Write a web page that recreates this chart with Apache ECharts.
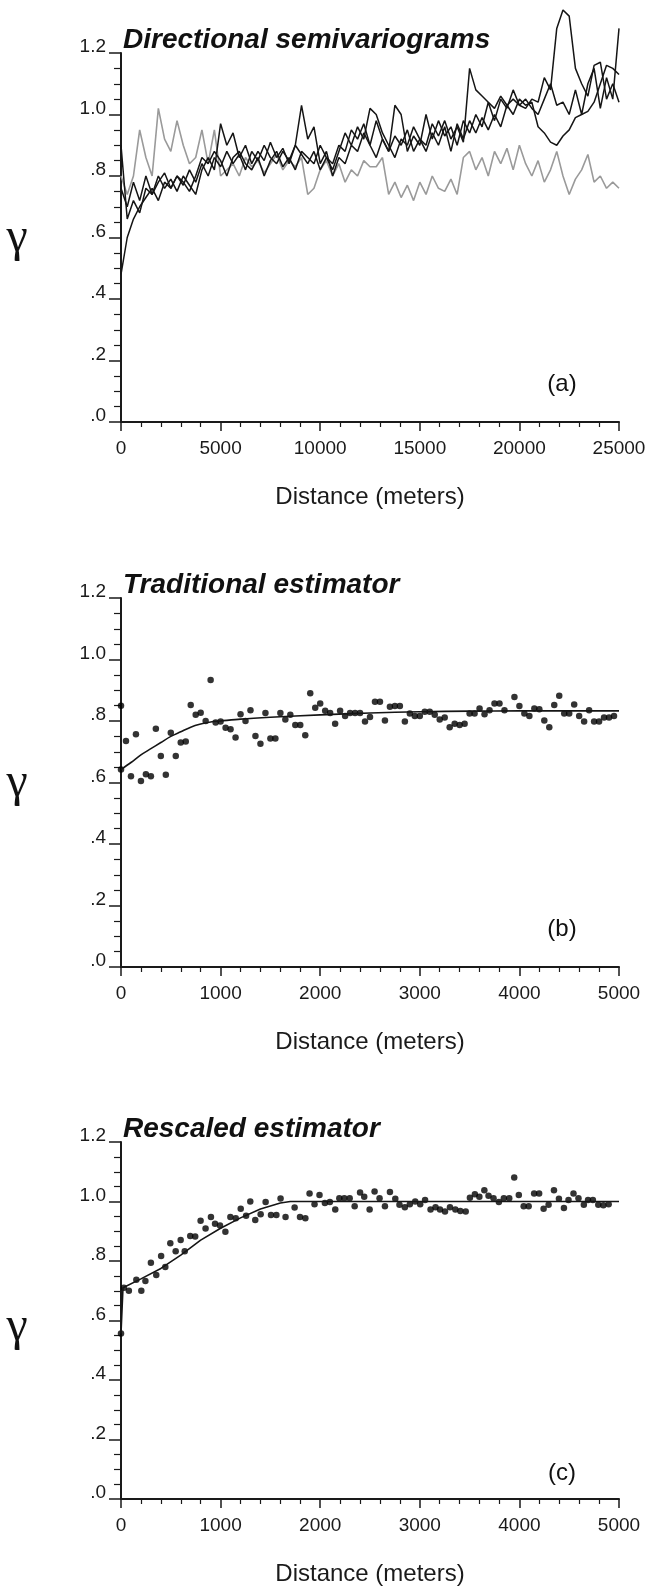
<!DOCTYPE html>
<html><head><meta charset="utf-8">
<script src="https://cdn.jsdelivr.net/npm/echarts@6/dist/echarts.min.js"></script>
<style>html,body{margin:0;padding:0;background:#fff}#c{width:649px;height:1587px}</style>
</head><body><div id="c"></div>
<script>
// ---------- Panel (a): directional semivariograms ----------
const aDist = [0,312.5,625,937.5,1250,1562.5,1875,2187.5,2500,2812.5,3125,3437.5,3750,4062.5,4375,4687.5,5000,5312.5,5625,5937.5,6250,6562.5,6875,7187.5,7500,7812.5,8125,8437.5,8750,9062.5,9375,9687.5,10000,10312.5,10625,10937.5,11250,11562.5,11875,12187.5,12500,12812.5,13125,13437.5,13750,14062.5,14375,14687.5,15000,15312.5,15625,15937.5,16250,16562.5,16875,17187.5,17500,17812.5,18125,18437.5,18750,19062.5,19375,19687.5,20000,20312.5,20625,20937.5,21250,21562.5,21875,22187.5,22500,22812.5,23125,23437.5,23750,24062.5,24375,24687.5,25000];
const aGray = [0.80,0.74,0.80,0.95,0.86,0.80,1.02,0.92,0.88,0.98,0.90,0.84,0.86,0.95,0.84,0.95,0.80,0.82,0.84,0.80,0.86,0.83,0.85,0.81,0.84,0.87,0.82,0.85,0.83,0.86,0.74,0.76,0.82,0.85,0.80,0.84,0.78,0.82,0.80,0.85,0.83,0.83,0.86,0.74,0.78,0.73,0.77,0.72,0.78,0.74,0.80,0.76,0.75,0.79,0.74,0.86,0.88,0.82,0.86,0.80,0.88,0.84,0.89,0.82,0.90,0.84,0.80,0.85,0.78,0.82,0.88,0.80,0.74,0.79,0.82,0.87,0.78,0.80,0.76,0.78,0.76];
const aDir1 = [0.48,0.60,0.66,0.70,0.73,0.76,0.72,0.78,0.76,0.80,0.77,0.82,0.78,0.84,0.80,0.86,0.83,0.88,0.84,0.87,0.82,0.88,0.85,0.90,0.86,0.84,0.88,0.85,0.90,0.87,0.84,0.88,0.82,0.86,0.84,0.90,0.88,0.95,0.92,0.97,0.90,0.86,0.92,0.88,0.93,0.90,0.95,0.88,0.92,0.90,0.97,0.93,0.98,0.92,0.96,0.91,1.15,1.08,1.06,1.04,1.02,1.06,1.03,1.05,1.03,1.02,1.05,1.04,1.12,1.08,1.28,1.34,1.32,1.15,1.10,1.06,1.16,1.17,1.05,1.10,1.04];
const aDir2 = [0.90,0.66,0.72,0.68,0.76,0.74,0.80,0.76,0.79,0.75,0.80,0.77,0.74,0.82,0.86,0.82,0.97,0.90,0.94,0.86,0.90,0.84,0.88,0.85,0.91,0.86,0.89,0.84,0.90,1.03,0.92,0.96,0.84,0.88,0.80,0.86,0.84,0.90,0.88,0.94,0.90,0.98,0.92,0.88,1.03,1.00,0.88,0.93,0.90,1.00,0.92,0.98,0.93,0.96,0.90,0.98,0.94,1.00,0.96,1.04,0.98,1.05,1.02,1.08,1.03,1.05,1.02,1.00,1.05,1.10,1.03,1.04,1.00,1.08,1.00,1.10,1.15,1.02,1.12,1.05,1.28];
const aDir3 = [0.76,0.70,0.78,0.72,0.80,0.74,0.78,0.81,0.76,0.80,0.78,0.75,0.80,0.86,0.84,0.88,0.85,0.80,0.86,0.88,0.84,0.82,0.86,0.80,0.85,0.88,0.83,0.86,0.82,0.88,0.86,0.84,0.90,0.86,0.82,0.88,0.94,0.90,0.96,0.92,1.02,1.00,0.94,0.90,0.86,0.92,0.90,0.96,0.92,0.88,0.94,0.90,0.96,0.88,0.97,0.92,0.98,0.94,0.99,0.95,1.00,0.96,1.03,1.00,1.05,1.03,1.04,0.96,0.94,0.91,0.90,0.93,0.95,0.99,1.00,1.01,1.04,1.10,1.16,1.15,1.13];

// ---------- Panel (b): traditional estimator ----------
const bDist = [0,0,50,100,150,200,250,300,350,400,450,500,550,600,650,700,750,800,850,900,950,1000,1050,1100,1150,1200,1250,1300,1350,1400,1450,1500,1550,1600,1650,1700,1750,1800,1850,1900,1950,2000,2050,2100,2150,2200,2250,2300,2350,2400,2450,2500,2550,2600,2650,2700,2750,2800,2850,2900,2950,3000,3050,3100,3150,3200,3250,3300,3350,3400,3450,3500,3550,3600,3650,3700,3750,3800,3850,3950,4000,4050,4100,4150,4200,4250,4300,4350,4400,4450,4500,4550,4600,4650,4700,4750,4800,4850,4900,4950];
const bGamma = [0.85,0.642,0.735,0.62,0.757,0.605,0.627,0.62,0.775,0.686,0.625,0.762,0.686,0.73,0.733,0.852,0.82,0.827,0.80,0.933,0.795,0.798,0.778,0.773,0.746,0.822,0.80,0.835,0.751,0.726,0.826,0.743,0.743,0.826,0.805,0.82,0.787,0.787,0.754,0.89,0.843,0.857,0.833,0.826,0.791,0.833,0.816,0.826,0.826,0.826,0.798,0.813,0.863,0.863,0.802,0.846,0.849,0.849,0.798,0.824,0.816,0.816,0.83,0.83,0.82,0.805,0.811,0.78,0.791,0.787,0.791,0.824,0.824,0.841,0.822,0.835,0.857,0.857,0.835,0.878,0.849,0.824,0.816,0.841,0.838,0.802,0.78,0.852,0.882,0.824,0.824,0.854,0.816,0.798,0.835,0.798,0.798,0.811,0.811,0.816];
const bModelDist = [0,100,200,300,400,500,600,700,800,900,1000,1200,1500,2000,2500,3000,3500,4000,5000];
const bModelGamma = [0.642,0.665,0.69,0.71,0.73,0.75,0.765,0.78,0.79,0.797,0.80,0.806,0.812,0.82,0.826,0.83,0.832,0.833,0.833];

// ---------- Panel (c): rescaled estimator ----------
const cDist = [0,29,79,154,204,245,300,354,403,445,495,549,599,640,695,745,799,849,903,944,994,1048,1098,1152,1202,1256,1298,1348,1402,1452,1506,1560,1602,1652,1743,1797,1851,1893,1943,1993,2047,2097,2151,2192,2242,2296,2346,2400,2442,2496,2546,2596,2650,2700,2754,2796,2850,2900,2954,3004,3053,3108,3158,3203,3253,3303,3357,3407,3461,3503,3553,3598,3648,3690,3740,3794,3844,3898,3948,3994,4043,4093,4148,4198,4243,4293,4347,4397,4447,4493,4543,4593,4647,4689,4738,4792,4843,4896];
const cGamma = [0.556,0.71,0.70,0.737,0.70,0.733,0.794,0.753,0.817,0.78,0.86,0.833,0.871,0.833,0.884,0.882,0.935,0.909,0.948,0.925,0.919,0.898,0.948,0.944,0.976,0.952,1.0,0.938,0.957,0.998,0.955,0.955,1.01,0.948,0.98,0.948,0.944,1.027,0.991,1.022,0.995,0.998,0.973,1.011,1.011,1.011,0.984,1.03,1.016,0.973,1.034,1.011,0.984,1.032,1.009,0.989,0.981,0.991,1.0,0.991,1.005,0.973,0.981,0.973,0.966,0.981,0.973,0.968,0.966,1.013,1.024,1.016,1.038,1.019,1.011,0.998,1.011,1.011,1.081,1.022,0.984,0.984,1.027,1.027,0.976,0.989,1.038,1.009,0.978,1.005,1.027,1.011,0.989,1.005,1.005,0.989,0.987,0.991];
const cModelDist = [0,20,200,400,600,800,1000,1200,1400,1600,1700,5000];
const cModelGamma = [0.556,0.71,0.74,0.775,0.82,0.87,0.91,0.945,0.975,0.995,1.0,1.0];

const yTicks = [0, 0.2, 0.4, 0.6, 0.8, 1.0, 1.2];
const titles = ['Directional semivariograms', 'Traditional estimator', 'Rescaled estimator'];
const panelTags = ['(a)', '(b)', '(c)'];
const xLabel = 'Distance (meters)';
const yLabel = 'γ';

const zip = (xs, ys) => xs.map((x, i) => [x, ys[i]]);
const FONT = "'Liberation Sans', Arial, sans-serif";
const INK = '#1a1a1a';
const tops = [53, 598, 1142];
const H = 369;

const grids = tops.map(t => ({left: 121, top: t, width: 498, height: H}));

function xAx(i, max, interval) {
  return {
    gridIndex: i, type: 'value', min: 0, max: max, interval: interval,
    name: xLabel, nameLocation: 'middle', nameGap: 63,
    nameTextStyle: {fontFamily: FONT, fontSize: 24, color: INK},
    axisLine: {show: true, onZero: false, lineStyle: {color: INK, width: 2}},
    axisTick: {show: true, length: 9, lineStyle: {color: INK, width: 1.5}},
    minorTick: {show: true, splitNumber: 5, length: 5, lineStyle: {color: INK, width: 1.2}},
    axisLabel: {fontFamily: FONT, fontSize: 19, color: INK, margin: 17, showMaxLabel: true, formatter: v => String(v)},
    splitLine: {show: false}
  };
}
function yAx(i) {
  return {
    gridIndex: i, type: 'value', min: yTicks[0], max: yTicks[yTicks.length - 1], interval: yTicks[1] - yTicks[0],
    axisLine: {show: true, onZero: false, lineStyle: {color: INK, width: 2}},
    axisTick: {show: true, length: 12, lineStyle: {color: INK, width: 1.5}},
    minorTick: {show: true, splitNumber: 4, length: 7, lineStyle: {color: INK, width: 1.2}},
    axisLabel: {
      fontFamily: FONT, fontSize: 19, color: INK, margin: 15,
      verticalAlign: 'bottom', lineHeight: 12,
      formatter: v => { const d = Math.round(v * 10); return v < 0.99 ? '.' + d : (d / 10).toFixed(1); }
    },
    splitLine: {show: false}
  };
}

const graphics = [];
tops.forEach((t, i) => {
  graphics.push({type: 'text', left: 123, top: t - 27, style: {text: titles[i], font: `italic bold 28px ${FONT}`, fill: '#111'}});
  graphics.push({type: 'text', x: 17, y: t + 185, style: {text: yLabel, font: "48px 'Liberation Serif', 'Times New Roman', serif", fill: '#111', align: 'center', verticalAlign: 'middle'}});
  graphics.push({type: 'text', x: 562, y: t + H - 38, style: {text: panelTags[i], font: `24px ${FONT}`, fill: '#111', align: 'center', verticalAlign: 'middle'}});
});

const lineBase = {type: 'line', showSymbol: false, clip: false, silent: true, animation: false};
const series = [
  Object.assign({}, lineBase, {xAxisIndex: 0, yAxisIndex: 0, data: zip(aDist, aGray), lineStyle: {color: '#9a9a9a', width: 1.6}}),
  Object.assign({}, lineBase, {xAxisIndex: 0, yAxisIndex: 0, data: zip(aDist, aDir1), lineStyle: {color: '#151515', width: 1.5}}),
  Object.assign({}, lineBase, {xAxisIndex: 0, yAxisIndex: 0, data: zip(aDist, aDir2), lineStyle: {color: '#151515', width: 1.5}}),
  Object.assign({}, lineBase, {xAxisIndex: 0, yAxisIndex: 0, data: zip(aDist, aDir3), lineStyle: {color: '#151515', width: 1.5}}),
  {type: 'scatter', xAxisIndex: 1, yAxisIndex: 1, data: zip(bDist, bGamma), symbol: 'circle', symbolSize: 6.5, itemStyle: {color: '#000'}, silent: true, animation: false},
  Object.assign({}, lineBase, {xAxisIndex: 1, yAxisIndex: 1, smooth: 0.3, data: zip(bModelDist, bModelGamma), lineStyle: {color: '#151515', width: 1.6}}),
  {type: 'scatter', xAxisIndex: 2, yAxisIndex: 2, data: zip(cDist, cGamma), symbol: 'circle', symbolSize: 6.5, itemStyle: {color: '#000'}, silent: true, animation: false},
  Object.assign({}, lineBase, {xAxisIndex: 2, yAxisIndex: 2, data: zip(cModelDist, cModelGamma), lineStyle: {color: '#151515', width: 1.6}})
];

const chart = echarts.init(document.getElementById('c'), null, {renderer: 'canvas'});
chart.setOption({
  animation: false,
  backgroundColor: '#fff',
  grid: grids,
  xAxis: [xAx(0, 25000, 5000), xAx(1, 5000, 1000), xAx(2, 5000, 1000)],
  yAxis: [yAx(0), yAx(1), yAx(2)],
  graphic: graphics,
  series: series
});
</script></body></html>
